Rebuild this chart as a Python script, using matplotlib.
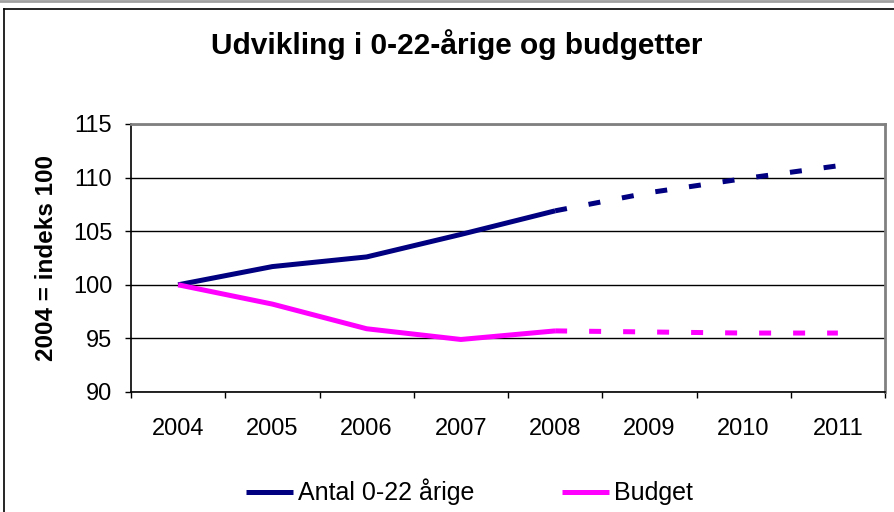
import matplotlib
matplotlib.use('Agg')
import matplotlib.pyplot as plt
from matplotlib.lines import Line2D

plt.rcParams['font.family'] = ['Liberation Sans', 'DejaVu Sans']

years = ['2004', '2005', '2006', '2007', '2008', '2009', '2010', '2011']
antal = [100.0, 101.7, 102.6, 104.7, 106.9, 108.6, 109.9, 111.1]
budget = [100.0, 98.2, 95.9, 94.9, 95.7, 95.6, 95.5, 95.5]
split = 4  # 2008: last actual year, after that the forecast is dashed

navy = '#000080'
magenta = '#ff00ff'

fig = plt.figure(figsize=(8.94, 5.12), dpi=100)
ax = fig.add_axes([131/894, 1 - 392/512, (885 - 131)/894, (392 - 124)/512])

x = list(range(len(years)))
ax.plot(x[:split + 1], antal[:split + 1], color=navy, lw=3.6, solid_capstyle='butt',
        solid_joinstyle='round', label='Antal 0-22 årige', zorder=3)
ax.plot(x[split:], antal[split:], color=navy, lw=3.6, dashes=(2.4, 4.4),
        dash_capstyle='butt', zorder=3)
ax.plot(x[:split + 1], budget[:split + 1], color=magenta, lw=3.6, solid_capstyle='butt',
        solid_joinstyle='round', label='Budget', zorder=3)
ax.plot(x[split:], budget[split:], color=magenta, lw=3.6, dashes=(2.4, 4.4),
        dash_capstyle='butt', zorder=3)

ax.set_xlim(-0.5, len(years) - 0.5)
ax.set_ylim(90, 115)
ax.set_yticks(range(90, 116, 5))
ax.yaxis.grid(True, color='black', lw=1)
ax.set_axisbelow(True)

ax.set_xticks([i - 0.5 for i in range(len(years) + 1)])
ax.set_xticklabels([])
ax.set_xticks(x, minor=True)
ax.set_xticklabels(years, minor=True)
ax.tick_params(axis='x', which='major', length=4.5, width=1, direction='out', color='black')
ax.tick_params(axis='x', which='minor', length=0, pad=19, labelsize=17)
ax.tick_params(axis='y', length=4.5, width=1, direction='out', pad=9, labelsize=17)

for s in ['top', 'right']:
    ax.spines[s].set_color('#808080')
    ax.spines[s].set_linewidth(2)
for s in ['left', 'bottom']:
    ax.spines[s].set_color('black')
    ax.spines[s].set_linewidth(1.2)

ax.set_ylabel('2004 = indeks 100', fontsize=17.5, fontweight='bold')
ax.yaxis.set_label_coords(-0.0968, 0.5)
fig.text(0.5106, 1 - 45/512, 'Udvikling i 0-22-årige og budgetter', ha='center', va='center',
         fontsize=21.5, fontweight='bold')

fig.legend(loc='center', bbox_to_anchor=(469/894, 1 - 492/512), ncol=2, frameon=False,
           fontsize=18, handlelength=1.88, handletextpad=0.2, columnspacing=3.5)

# chart border
fig.add_artist(Line2D([4/894, 4/894], [0, 1 - 9/512], color='black', lw=1.2))
fig.add_artist(Line2D([4/894, 1], [1 - 9/512, 1 - 9/512], color='black', lw=1.2))
fig.add_artist(Line2D([0, 1], [1 - 1/512, 1 - 1/512], color='#a0a0a0', lw=2))

fig.savefig('out.png', dpi=100)
